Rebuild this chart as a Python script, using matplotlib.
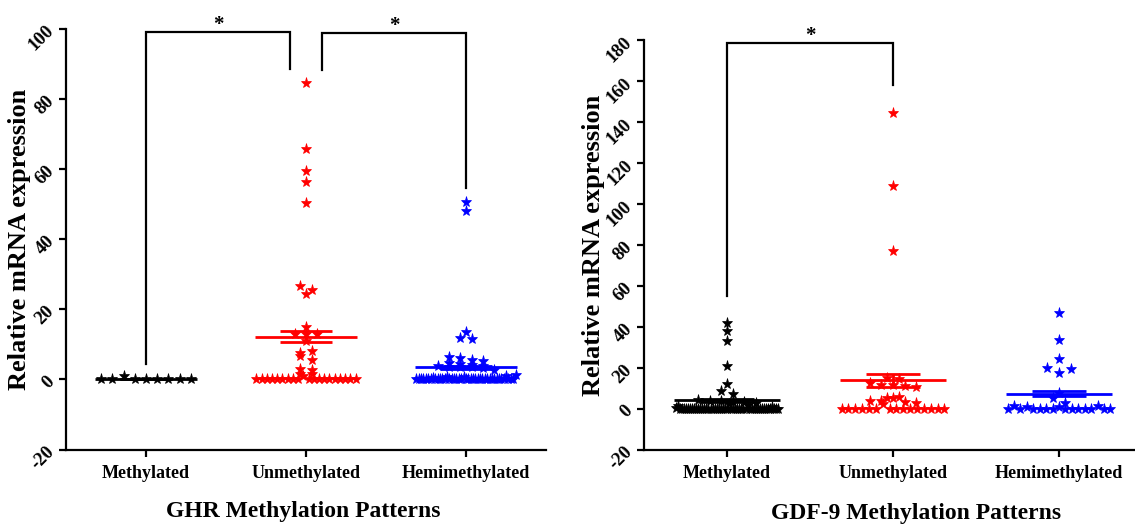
import numpy as np
import matplotlib
matplotlib.use("Agg")
import matplotlib.pyplot as plt

plt.rcParams['font.family'] = ['Liberation Serif', 'DejaVu Serif']
plt.rcParams['font.weight'] = 'bold'
plt.rcParams['axes.unicode_minus'] = False

groups = ["Methylated", "Unmethylated", "Hemimethylated"]
colors = ["#000000", "#ff0000", "#0000ff"]

# GHR panel values
ghr_methylated = [0, 0, 1.1, 0, 0, 0, 0, 0, 0]
ghr_unmethylated = [84.4, 65.7, 59.3, 56.3, 50.3, 26.6, 25.6, 24.2, 14.9,
                    12.9, 12.9, 12.9, 11.0, 6.7, 7.5, 8.1, 5.6, 2.9, 1.4, 1.6,
                    2.7,
                    0, 0, 0, 0, 0, 0, 0, 0, 0, 1.1, 0, 0, 0, 0, 0, 0, 0, 0, 0,
                    0]
ghr_hemimethylated = [50.5, 48.0, 13.6, 11.7, 11.4, 6.3, 6.0, 5.6, 5.3, 4.8,
                      4.3, 4.1, 3.9, 3.8, 3.6, 3.5, 3.4, 3.2, 2.6,
                      0, 0, 0, 0, 0, 0, 0, 0.4, 0, 0, 0, 0, 0, 0.6, 0, 0, 0,
                      0, 0, 0, 0.8, 0, 0, 0, 0, 0, 0, 0, 0, 0, 0, 0, 0, 0,
                      0, 0, 0, 0, 1.0, 0, 0, 0, 1.2]
ghr_means = [0.1, 12.2, 3.4]
ghr_sems = [0.1, 1.65, 0.5]
# (x left, x right, left leg bottom, top, right leg bottom)
ghr_brackets = [(0, 0.9, 4.5, 99.0, 88.4), (1.1, 2.0, 88.2, 98.8, 54.6)]

# GDF-9 panel values
gdf_methylated = [41.8, 38.2, 32.9, 20.8, 12.1, 8.5, 7.4, 4.3, 4.0, 3.8, 3.5,
                  3.2, 2.8,
                  0.6, 1.4, 0, 0, 0, 0, 0, 0, 0, 0, 0, 0, 0, 0, 0, 0, 0, 0,
                  0, 0, 0, 0, 0, 0, 0, 0, 2.2, 0, 0, 0, 0, 0, 0, 0, 0, 1.8,
                  0, 0, 0, 0, 0, 0, 0, 0, 0, 0, 0, 1.0, 0, 0, 0]
gdf_unmethylated = [144.6, 108.9, 77.0, 15.0, 14.6, 12.4, 11.8, 11.4, 11.0,
                    10.7, 3.8, 3.6, 5.5, 5.3, 3.1, 5.8,
                    0, 0, 0, 0, 0, 0, 2.1, 0, 0, 0, 0, 0, 0, 0, 2.8, 0, 0]
gdf_hemimethylated = [46.8, 33.6, 24.1, 20.0, 17.6, 19.5, 7.7, 5.5,
                      0, 1.2, 0, 3.0, 0.8, 0, 0, 0, 0, 1.0, 0, 0, 0, 0, 0,
                      1.5, 0, 0]
gdf_means = [4.1, 14.0, 7.4]
gdf_sems = [0.9, 3.2, 1.2]
gdf_brackets = [(0, 1, 55.2, 178.7, 158.2)]


def swarm_offsets(values, tol, step=0.07, half_width=0.31):
    # put close values in one row and spread the row sideways
    values = np.asarray(values, dtype=float)
    order = np.argsort(values, kind="stable")
    rows, row, start = [], [], None
    for i in order:
        if start is None or values[i] - start > tol:
            if row:
                rows.append(row)
            row, start = [i], values[i]
        else:
            row.append(i)
    rows.append(row)
    offsets = np.zeros(len(values))
    for row in rows:
        row = sorted(row)
        n = len(row)
        if n < 2:
            continue
        s = min(step, 2 * half_width / (n - 1))
        for k, i in enumerate(row):
            offsets[i] = (k - (n - 1) / 2) * s
    return offsets


def draw_panel(ax, data, means, sems, brackets, ylim, yticks, tol, xlabel):
    for pos, (vals, c) in enumerate(zip(data, colors)):
        off = swarm_offsets(vals, tol)
        ax.plot(pos + off, vals, linestyle="none", marker="*", ms=8,
                color=c, mec=c, mew=0.5, zorder=2)
        m, s = means[pos], sems[pos]
        ax.hlines(m, pos - 0.32, pos + 0.32, color=c, lw=2, zorder=3)
        ax.hlines([m - s, m + s], pos - 0.16, pos + 0.16, color=c, lw=2, zorder=3)
        ax.vlines(pos, m - s, m + s, color=c, lw=2, zorder=3)

    for x1, x2, yb1, ytop, yb2 in brackets:
        ax.plot([x1, x1, x2, x2], [yb1, ytop, ytop, yb2], color="black",
                lw=1.6, clip_on=False, solid_joinstyle="miter")
        ax.text((x1 + x2) / 2, ytop + (ylim[1] - ylim[0]) * 0.004, "*",
                ha="center", va="baseline", fontsize=15, fontweight="bold",
                clip_on=False)

    ax.set_xlim(-0.5, 2.5)
    ax.set_ylim(*ylim)
    ax.set_xticks(range(3))
    ax.set_xticklabels(groups)
    ax.set_yticks(yticks)
    for side in ["top", "right"]:
        ax.spines[side].set_visible(False)
    for side in ["left", "bottom"]:
        ax.spines[side].set_linewidth(1.6)
    ax.tick_params(axis="both", direction="out", length=5, width=1.6)
    ax.tick_params(axis="x", labelsize=13, pad=6)
    ax.tick_params(axis="y", labelsize=13.5, labelrotation=45, pad=1)
    ax.set_ylabel("Relative mRNA expression", fontsize=19, fontweight="bold")
    ax.set_xlabel(xlabel, fontsize=17, fontweight="bold")
    ax.yaxis.label.set_va("center")
    ax.xaxis.label.set_va("center")


fig = plt.figure(figsize=(11.35, 5.26), dpi=100)
ax1 = fig.add_axes([0.0581, 0.1454, 0.4229, 0.8002])
ax2 = fig.add_axes([0.5674, 0.1450, 0.4388, 0.7783])

draw_panel(ax1, [ghr_methylated, ghr_unmethylated, ghr_hemimethylated],
           ghr_means, ghr_sems, ghr_brackets, (-20, 100), range(-20, 101, 20),
           1.2, "GHR Methylation Patterns")
draw_panel(ax2, [gdf_methylated, gdf_unmethylated, gdf_hemimethylated],
           gdf_means, gdf_sems, gdf_brackets, (-20, 180), range(-20, 181, 20),
           2.5, "GDF-9 Methylation Patterns")

ax1.yaxis.set_label_coords(-0.096, 0.5)
ax1.xaxis.set_label_coords(0.495, -0.148)
ax2.yaxis.set_label_coords(-0.102, 0.5)
ax2.xaxis.set_label_coords(0.546, -0.155)

plt.savefig("out.png", dpi=100)
